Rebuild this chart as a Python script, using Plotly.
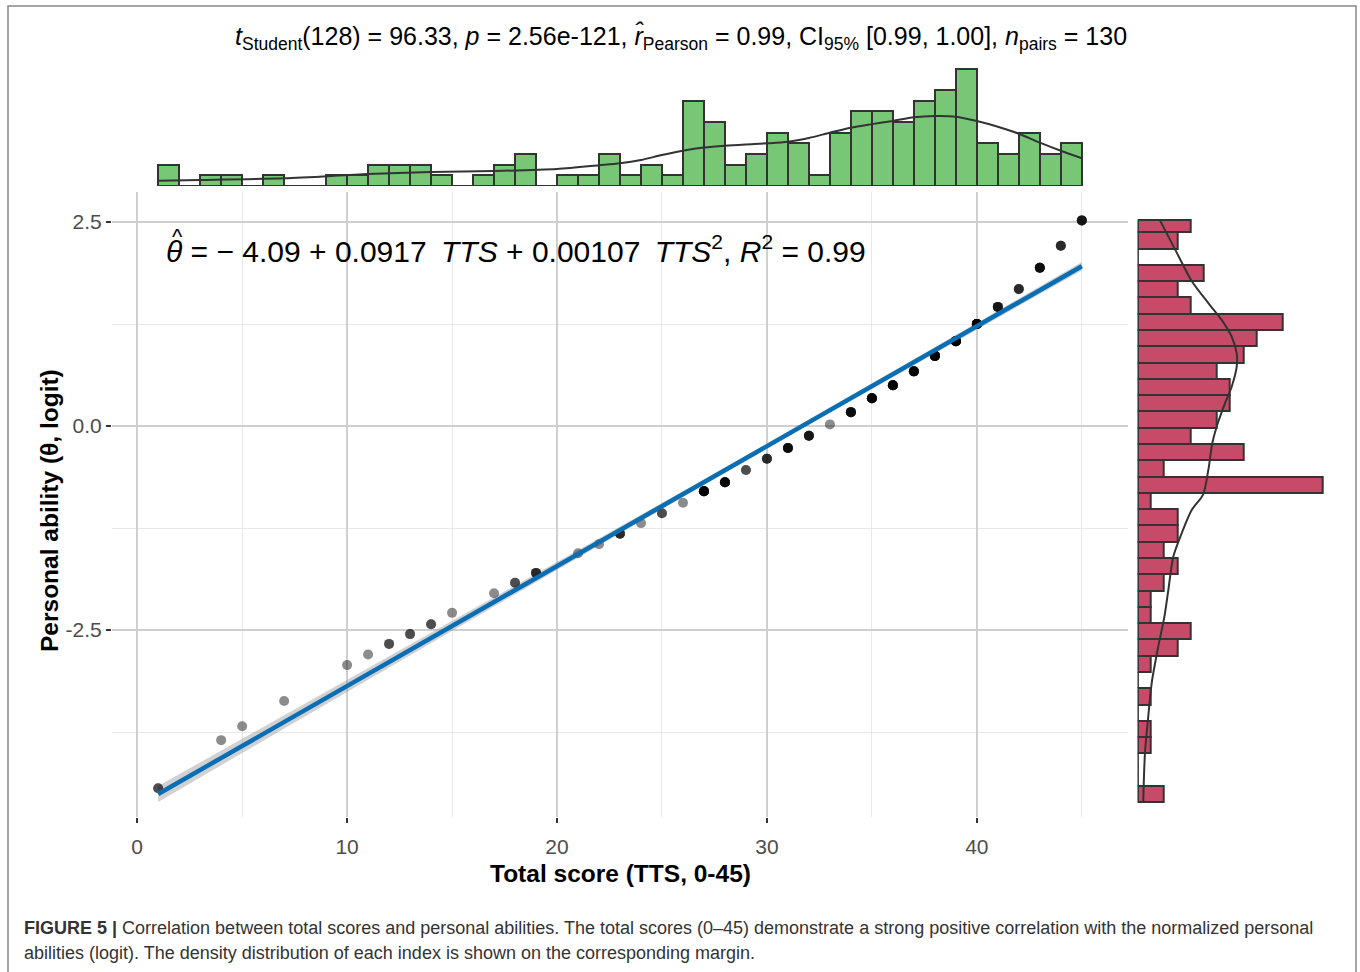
import numpy as np
import plotly.graph_objects as go

# ---------------- data ----------------
tts_values = [1, 4, 5, 7, 10, 11, 12, 13, 14, 15, 17, 18, 19, 21, 22, 23, 24, 25, 26,
              27, 28, 29, 30, 31, 32, 33, 34, 35, 36, 37, 38, 39, 40, 41, 42, 43, 44, 45]
n_per_score = [2, 1, 1, 1, 1, 1, 2, 2, 2, 1, 1, 2, 3, 1, 1, 3, 1, 2, 1,
               8, 6, 2, 3, 5, 4, 1, 5, 7, 7, 6, 8, 9, 11, 4, 3, 5, 3, 4]
theta_values = [-4.44, -3.85, -3.68, -3.37, -2.93, -2.80, -2.67, -2.55, -2.43, -2.29,
                -2.05, -1.92, -1.80, -1.56, -1.45, -1.32, -1.19, -1.07, -0.94,
                -0.80, -0.69, -0.54, -0.40, -0.27, -0.12, 0.02, 0.17, 0.34, 0.50,
                0.67, 0.86, 1.04, 1.25, 1.46, 1.68, 1.94, 2.21, 2.52]

# marginal density curves
top_dens_x = [1, 3, 7, 11, 14, 17, 20, 22, 23, 24, 25, 26, 27, 28, 29, 30, 31, 32, 33,
              34, 35, 36, 37, 38, 39, 40, 41, 42, 43, 44, 45]
top_dens_y = [0.5, 0.56, 0.72, 1.12, 1.31, 1.41, 1.59, 1.94, 2.13, 2.44, 2.9, 3.3, 3.6,
              3.78, 3.9, 4.0, 4.15, 4.5, 5.0, 5.47, 5.8, 6.1, 6.44, 6.56, 6.5, 6.1,
              5.56, 4.9, 4.06, 3.3, 2.6]
right_dens_theta = [2.52, 2.165, 1.777, 1.507, 1.30, 1.094, 0.891, 0.727, 0.482, 0.278,
                    -0.009, -0.212, -0.539, -0.84, -1.03, -1.315, -1.60, -2.01, -2.34,
                    -2.70, -3.15, -3.56, -4.01, -4.60]
right_dens_count = [1.69, 2.83, 4.09, 5.35, 6.36, 7.12, 7.5, 7.5, 7.12, 6.61,
                    5.98, 5.65, 5.35, 4.95, 4.09, 3.33, 2.70, 2.32, 2.02,
                    1.56, 1.06, 0.80, 0.55, 0.42]

x_tick_vals = [0, 10, 20, 30, 40]
y_tick_vals = [-2.5, 0.0, 2.5]
y_tick_text = ["-2.5", "0.0", "2.5"]

title_text = ("<i>t</i><sub>Student</sub>(128) = 96.33, <i>p</i> = 2.56e-121, "
              "<i>r\u0302</i><sub>Pearson</sub> = 0.99, CI<sub>95%</sub> [0.99, 1.00], "
              "<i>n</i><sub>pairs</sub> = 130")
eq_text = ("<i>\u03b8</i> = \u2212 4.09 + 0.0917 \u2009<i>TTS</i> + 0.00107 \u2009<i>TTS</i><sup>2</sup>, "
           "<i>R</i><sup>2</sup> = 0.99")
eq_hat = "^"
x_title = "Total score (TTS, 0-45)"
y_title = "Personal ability (\u03b8, logit)"
caption_1 = ("<b>FIGURE 5 |</b> Correlation between total scores and personal abilities. "
             "The total scores (0\u201345) demonstrate a strong positive correlation with the normalized personal")
caption_2 = ("abilities (logit). The density distribution of each index is shown on the corresponding margin.")

# ---------------- styling constants ----------------
W, H = 1360, 972
FONT = "Liberation Sans"
GREEN = "#78C777"
RED = "#C74B68"
OUTLINE = "#333333"
BLUE = "#0A6EB4"
x_binwidth = 1.0
y_bin_start = -4.611
y_binwidth = 0.1996

def px_x(p):
    return p / W

def px_y(p):
    return 1 - p / H

# ---------------- derived data ----------------
x = np.repeat(np.array(tts_values, float), n_per_score)
y = np.repeat(np.array(theta_values, float), n_per_score)

# x histogram (right-closed bins, first bin includes lowest value)
x_edges = np.arange(x.min(), x.max() + x_binwidth / 2, x_binwidth)
xi = np.clip(np.searchsorted(x_edges, x, side="left") - 1, 0, len(x_edges) - 2)
x_counts = np.bincount(xi, minlength=len(x_edges) - 1)
x_centers = (x_edges[:-1] + x_edges[1:]) / 2

# y histogram
n_ybins = int(np.ceil((y.max() - y_bin_start) / y_binwidth))
y_edges = y_bin_start + y_binwidth * np.arange(n_ybins + 1)
yi = np.clip(np.searchsorted(y_edges, y, side="left") - 1, 0, n_ybins - 1)
y_counts = np.bincount(yi, minlength=n_ybins)
y_edges_c = np.clip(y_edges, None, y.max())
y_centers = (y_edges_c[:-1] + y_edges_c[1:]) / 2
y_heights = y_edges_c[1:] - y_edges_c[:-1]

# linear fit + 95% CI
b1, b0 = np.polyfit(x, y, 1)
xs = np.linspace(x.min(), x.max(), 100)
ys = b0 + b1 * xs
resid = y - (b0 + b1 * x)
n = len(x)
s = np.sqrt(np.sum(resid ** 2) / (n - 2))
se = s * np.sqrt(1 / n + (xs - x.mean()) ** 2 / np.sum((x - x.mean()) ** 2))
tq = 1.9787
lo, hi = ys - tq * se, ys + tq * se

# axis ranges (ggplot 5% expansion)
xr = [x.min() - 0.05 * (x.max() - x.min()), x.max() + 0.05 * (x.max() - x.min())]
yr = [y.min() - 0.05 * (y.max() - y.min()), y.max() + 0.05 * (y.max() - y.min())]

fig = go.Figure()

# CI band
fig.add_trace(go.Scatter(x=np.concatenate([xs, xs[::-1]]), y=np.concatenate([hi, lo[::-1]]),
                         fill="toself", fillcolor="rgba(153,153,153,0.45)", line=dict(width=0),
                         mode="lines", hoverinfo="skip", showlegend=False))
# points
fig.add_trace(go.Scatter(x=x, y=y, mode="markers",
                         marker=dict(color="black", size=10, opacity=0.45, line=dict(width=0)),
                         showlegend=False))
# regression line
fig.add_trace(go.Scatter(x=xs, y=ys, mode="lines", line=dict(color=BLUE, width=4.5),
                         showlegend=False))

# top histogram
fig.add_trace(go.Bar(x=x_centers, y=x_counts, width=x_binwidth, xaxis="x2", yaxis="y2",
                     marker=dict(color=GREEN, line=dict(color=OUTLINE, width=2)), showlegend=False))
fig.add_trace(go.Scatter(x=[x_edges[0], x_edges[-1]], y=[0, 0], mode="lines", xaxis="x2", yaxis="y2",
                         line=dict(color=OUTLINE, width=2), showlegend=False))
fig.add_trace(go.Scatter(x=top_dens_x, y=top_dens_y, mode="lines", xaxis="x2", yaxis="y2",
                         line=dict(color=OUTLINE, width=2, shape="spline", smoothing=0.8), showlegend=False))

# right histogram
fig.add_trace(go.Bar(y=y_centers, x=y_counts, width=y_heights, orientation="h", xaxis="x3", yaxis="y3",
                     marker=dict(color=RED, line=dict(color=OUTLINE, width=2)), showlegend=False))
fig.add_trace(go.Scatter(x=[0, 0], y=[y_edges_c[0], y_edges_c[-1]], mode="lines", xaxis="x3", yaxis="y3",
                         line=dict(color=OUTLINE, width=2), showlegend=False))
fig.add_trace(go.Scatter(x=right_dens_count, y=right_dens_theta, mode="lines", xaxis="x3", yaxis="y3",
                         line=dict(color=OUTLINE, width=2, shape="spline", smoothing=0.8), showlegend=False))

main_xdom = [px_x(112), px_x(1128)]
main_ydom = [px_y(816.7), px_y(192)]
grid_major = "#CFCFCF"
grid_minor = "#E8E8E8"

fig.update_layout(
    width=W, height=H, margin=dict(l=0, r=0, t=0, b=0),
    paper_bgcolor="white", plot_bgcolor="white",
    font=dict(family=FONT, color="#222"),
    bargap=0,
    xaxis=dict(domain=main_xdom, range=xr, tickvals=x_tick_vals, ticks="outside", ticklen=5,
               tickwidth=1.5, tickcolor="#333", tickfont=dict(size=21, color="#4D4D4D", family=FONT),
               ticklabelstandoff=6,
               showgrid=True, gridcolor=grid_major, gridwidth=1.8, zeroline=False, showline=False,
               minor=dict(dtick=5, tick0=0, showgrid=True, gridcolor=grid_minor, gridwidth=1, ticks=""),
               anchor="y"),
    yaxis=dict(domain=main_ydom, range=yr, tickvals=y_tick_vals, ticktext=y_tick_text,
               ticks="outside", ticklen=5,
               tickwidth=1.5, tickcolor="#333", tickfont=dict(size=21, color="#4D4D4D", family=FONT),
               showgrid=True, gridcolor=grid_major, gridwidth=1.8, zeroline=False, showline=False,
               minor=dict(dtick=1.25, tick0=0, showgrid=True, gridcolor=grid_minor, gridwidth=1, ticks=""),
               anchor="x"),
    xaxis2=dict(domain=main_xdom, range=xr, visible=False, anchor="y2"),
    yaxis2=dict(domain=[px_y(186), px_y(60)], range=[0, (186 - 60) / 10.667], visible=False, anchor="x2"),
    xaxis3=dict(domain=[px_x(1137.7), px_x(1350)], range=[0, (1350 - 1137.7) / 13.2], visible=False, anchor="y3"),
    yaxis3=dict(domain=main_ydom, range=yr, visible=False, anchor="x3"),
)

ann = [
    dict(text=title_text, x=px_x(681), y=px_y(37), font=dict(size=25, color="black")),
    dict(text=eq_text, x=px_x(164), y=px_y(249), xanchor="left", font=dict(size=30, color="black")),
    dict(text=eq_hat, x=px_x(177), y=px_y(237), font=dict(size=22, color="black")),
    dict(text="<b>" + x_title + "</b>", x=px_x(620), y=px_y(873), font=dict(size=24.5, color="black")),
    dict(text="<b>" + y_title + "</b>", x=px_x(50), y=px_y(511), textangle=-90, font=dict(size=24.5, color="black")),
    dict(text=caption_1, x=px_x(22), y=px_y(928), xanchor="left", font=dict(size=18, color="#333")),
    dict(text=caption_2, x=px_x(22), y=px_y(953), xanchor="left", font=dict(size=18, color="#333")),
]
for a in ann:
    a.setdefault("xanchor", "center")
    a.update(xref="paper", yref="paper", yanchor="middle", showarrow=False)
    a["font"].setdefault("family", FONT)
fig.update_layout(annotations=ann)

fig.add_shape(type="rect", xref="paper", yref="paper", x0=px_x(8), x1=px_x(1356), y0=px_y(975), y1=px_y(6),
              line=dict(color="#888", width=1.5), fillcolor="rgba(0,0,0,0)")

fig.write_html("out.html")
